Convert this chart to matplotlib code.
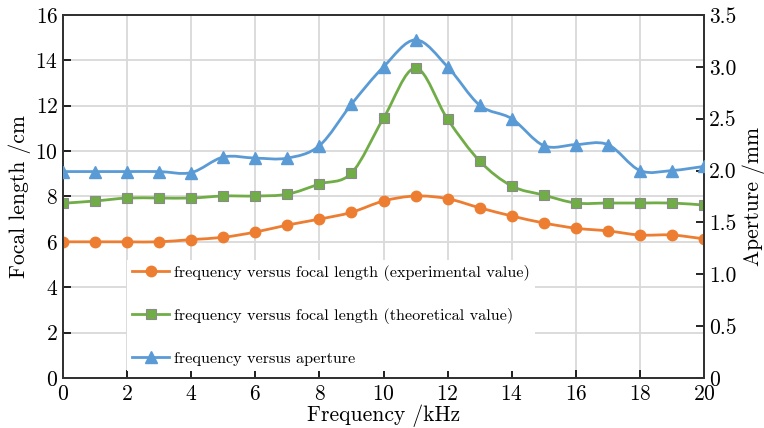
import numpy as np
import matplotlib.pyplot as plt
from matplotlib.path import Path
from matplotlib.patches import PathPatch
from matplotlib.lines import Line2D

plt.rcParams['font.family'] = 'serif'
plt.rcParams['font.serif'] = ['cmr10', 'DejaVu Serif']
plt.rcParams['axes.formatter.use_mathtext'] = True

freq = list(range(0, 21))
focal_exp = [6.0, 6.0, 6.0, 6.0, 6.1, 6.2, 6.43, 6.74, 7.0, 7.3, 7.8, 8.02,
             7.9, 7.5, 7.14, 6.83, 6.6, 6.48, 6.3, 6.3, 6.13]
focal_theo = [7.7, 7.8, 7.93, 7.93, 7.93, 8.02, 8.02, 8.1, 8.55, 9.03, 11.45, 13.66,
              11.4, 9.56, 8.46, 8.06, 7.71, 7.71, 7.71, 7.71, 7.62]
aperture = [1.99, 1.99, 1.99, 1.99, 1.98, 2.13, 2.12, 2.12, 2.24, 2.64, 3.0, 3.26,
            3.0, 2.63, 2.5, 2.24, 2.25, 2.25, 2.0, 2.0, 2.04]

labels = ["frequency versus focal length (experimental value)",
          "frequency versus focal length (theoretical value)",
          "frequency versus aperture"]

c_orange = "#ED7D31"
c_green = "#70AD47"
c_blue = "#5B9BD5"


def smooth_path(x, y):
    # catmull-rom style bezier through the points (like excel smoothed lines)
    x = np.asarray(x, float)
    y = np.asarray(y, float)
    n = len(x)
    verts = [(x[0], y[0])]
    codes = [Path.MOVETO]
    for i in range(n - 1):
        i0 = max(i - 1, 0)
        i3 = min(i + 2, n - 1)
        c1 = (x[i] + (x[i + 1] - x[i0]) / 6, y[i] + (y[i + 1] - y[i0]) / 6)
        c2 = (x[i + 1] - (x[i3] - x[i]) / 6, y[i + 1] - (y[i3] - y[i]) / 6)
        verts += [c1, c2, (x[i + 1], y[i + 1])]
        codes += [Path.CURVE4] * 3
    return Path(verts, codes)


fig, ax = plt.subplots(figsize=(7.64, 4.28), dpi=100)
fig.subplots_adjust(left=0.0825, right=0.9215, top=0.965, bottom=0.117)
ax2 = ax.twinx()

ax.add_patch(PathPatch(smooth_path(freq, focal_exp), fill=False, edgecolor=c_orange, lw=2, zorder=3))
ax.plot(freq, focal_exp, linestyle='None', marker='o', markersize=7.5, color=c_orange, zorder=4)
ax.add_patch(PathPatch(smooth_path(freq, focal_theo), fill=False, edgecolor=c_green, lw=2, zorder=3))
ax.plot(freq, focal_theo, linestyle='None', marker='s', markersize=7, color=c_green,
        markeredgecolor='#8a8a8a', markeredgewidth=0.8, zorder=4)
ax2.add_patch(PathPatch(smooth_path(freq, aperture), fill=False, edgecolor=c_blue, lw=2, zorder=3))
ax2.plot(freq, aperture, linestyle='None', marker='^', markersize=8, color=c_blue, zorder=4)

ax.set_xlim(0, 20)
ax.set_ylim(0, 16)
ax2.set_ylim(0, 3.5)
ax.set_xticks(range(0, 21, 2))
ax.set_yticks(range(0, 17, 2))
ax2.set_yticks(np.arange(0, 3.51, 0.5))
ax2.set_yticklabels(["0"] + [f"{v:.1f}" for v in np.arange(0.5, 3.51, 0.5)])

ax.grid(True, color='#d9d9d9', lw=1.3)
ax.set_axisbelow(True)
for a in (ax, ax2):
    a.tick_params(direction='in', length=6, width=1.2, labelsize=15.5)
    for s in a.spines.values():
        s.set_linewidth(1.4)
        s.set_color('#333333')
ax.tick_params(axis='x', pad=5)

ax.set_xlabel("Frequency /kHz", fontsize=15.5, labelpad=0)
ax.set_ylabel("Focal length /cm", fontsize=15.5, labelpad=3)
ax2.set_ylabel("Aperture /mm", fontsize=15.5, rotation=90, labelpad=4)

handles = [
    Line2D([], [], color=c_orange, lw=2, marker='o', markersize=7.5),
    Line2D([], [], color=c_green, lw=2, marker='s', markersize=7,
           markeredgecolor='#8a8a8a', markeredgewidth=0.8),
    Line2D([], [], color=c_blue, lw=2, marker='^', markersize=8),
]
leg = ax2.legend(handles, labels, loc='upper left', bbox_to_anchor=(0.1, 0.325),
                 borderaxespad=0, frameon=True, facecolor='white', edgecolor='none',
                 framealpha=1, fancybox=False, fontsize=11.7, labelspacing=1.68,
                 handlelength=2.3, handletextpad=0.3, borderpad=0.3)
leg.set_zorder(5)

plt.savefig("out.png", dpi=100)
